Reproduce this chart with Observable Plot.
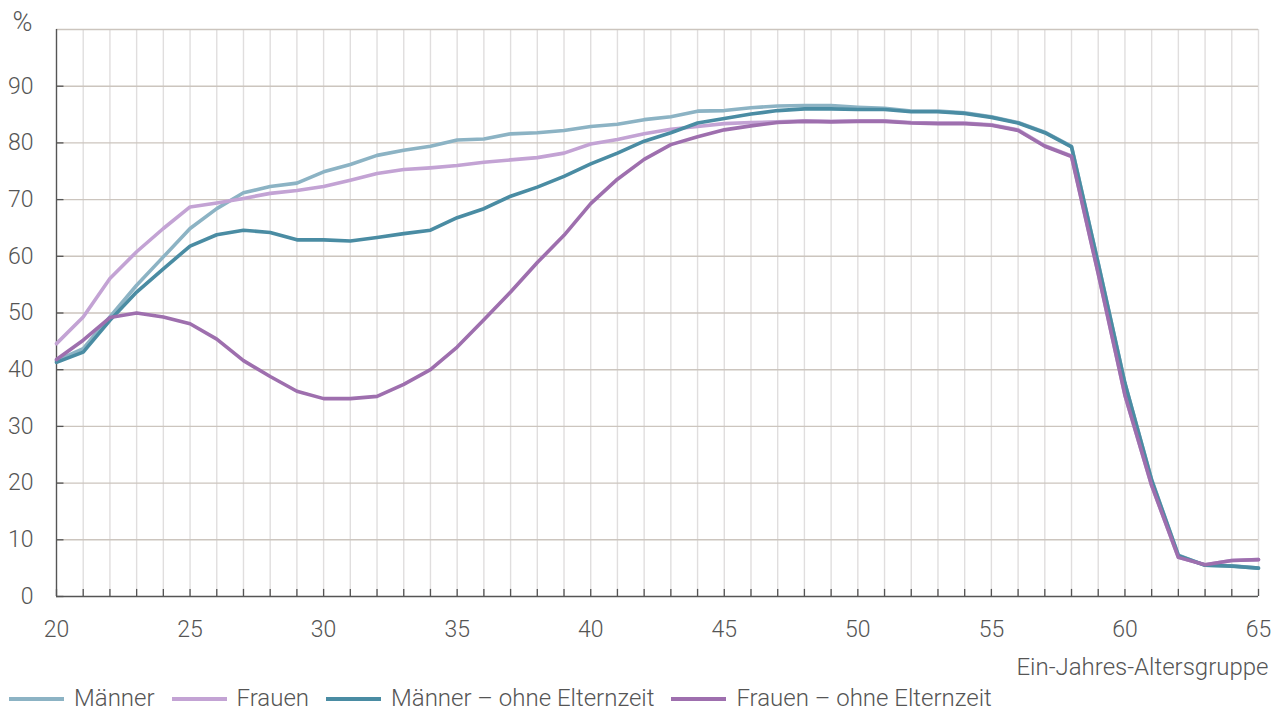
<!DOCTYPE html>
<html><head><meta charset="utf-8">
<script src="https://cdn.jsdelivr.net/npm/d3@7"></script>
<script src="https://cdn.jsdelivr.net/npm/@observablehq/plot@0.6"></script>
<style>
body{margin:0;background:#fff;font-family:Roboto,sans-serif;font-weight:300;color:#555}
#legend{display:flex;align-items:center;height:25px;padding-left:9px;font-size:24px;line-height:25px}
.item{display:flex;align-items:center;margin-right:17px;white-space:nowrap}
.sw{width:55px;height:4px;margin-right:10px}
</style></head><body><div id="chart"></div><div id="legend"></div>
<script>
const ages = [20,21,22,23,24,25,26,27,28,29,30,31,32,33,34,35,36,37,38,39,40,41,42,43,44,45,46,47,48,49,50,51,52,53,54,55,56,57,58,59,60,61,62,63,64,65];
const maenner = [41.6,43.7,49.3,54.9,59.9,64.9,68.4,71.2,72.3,72.9,74.9,76.2,77.8,78.7,79.4,80.5,80.7,81.6,81.8,82.2,82.9,83.3,84.1,84.6,85.6,85.7,86.2,86.5,86.6,86.6,86.3,86.1,85.6,85.6,85.3,84.6,83.6,81.9,79.4,58.8,37.6,20.6,7.3,5.5,5.4,5.0];
const frauen = [44.6,49.3,56.1,60.8,64.9,68.7,69.4,70.2,71.1,71.6,72.3,73.4,74.6,75.3,75.6,76.0,76.6,77.0,77.4,78.2,79.8,80.6,81.6,82.4,82.9,83.4,83.6,83.7,83.9,83.8,83.9,83.9,83.6,83.5,83.5,83.2,82.3,79.5,77.7,57.0,35.5,19.6,6.9,5.6,6.35,6.5];
const maennerOhne = [41.3,43.1,48.7,53.7,57.8,61.8,63.8,64.6,64.2,62.9,62.9,62.7,63.3,64.0,64.6,66.8,68.4,70.6,72.2,74.1,76.3,78.2,80.3,81.8,83.5,84.3,85.1,85.7,86.0,86.0,85.9,85.9,85.5,85.5,85.2,84.5,83.5,81.8,79.3,58.7,37.6,20.5,7.2,5.5,5.35,5.0];
const frauenOhne = [41.8,45.2,49.2,50.0,49.3,48.1,45.4,41.6,38.8,36.2,34.9,34.9,35.3,37.4,40.0,44.0,48.8,53.7,58.9,63.7,69.3,73.6,77.1,79.7,81.1,82.3,83.0,83.6,83.8,83.7,83.8,83.8,83.5,83.4,83.4,83.1,82.2,79.4,77.6,56.9,35.5,19.6,6.9,5.6,6.35,6.5];
const seriesNames = ["Männer","Frauen","Männer – ohne Elternzeit","Frauen – ohne Elternzeit"];
const seriesColors = ["#8cb3c4","#c3a3d4","#4a8ca3","#9e6fae"];
const yTicks = [0,10,20,30,40,50,60,70,80,90];
const yGrid = [10,20,30,40,50,60,70,80,90,100];
const xLabels = [20,25,30,35,40,45,50,55,60,65];
const yUnit = "%";
const xTitle = "Ein-Jahres-Altersgruppe";

const seriesValues = [maenner, frauen, maennerOhne, frauenOhne];
const data = [];
seriesNames.forEach((name, s) => ages.forEach((a, i) => data.push({age: a, value: seriesValues[s][i], series: name})));

const chart = Plot.plot({
  width: 1281, height: 686,
  marginLeft: 56, marginRight: 23, marginTop: 29, marginBottom: 90,
  x: {domain: [20, 65], axis: null},
  y: {domain: [0, 100], axis: null},
  color: {domain: seriesNames, range: seriesColors},
  style: {fontFamily: "Roboto, sans-serif", fontSize: "23px", fontWeight: 300, color: "#555", background: "#fff"},
  marks: [
    Plot.ruleX(ages.slice(1), {y1: 0, y2: 100, stroke: "#e0dede", strokeWidth: 1.4}),
    Plot.ruleY(yGrid, {stroke: "#ccc5be", strokeWidth: 1.4}),
    Plot.ruleX(ages, {y1: 0, y2: 1.25, stroke: "#555", strokeWidth: 1.3}),
    Plot.ruleY(yTicks, {x1: 20, x2: 20.28, stroke: "#555", strokeWidth: 1.3}),
    Plot.ruleY([0], {stroke: "#555", strokeWidth: 1.4}),
    Plot.ruleX([20], {y1: 0, y2: 100, stroke: "#555", strokeWidth: 1.4}),
    Plot.line(data, {x: "age", y: "value", z: "series", stroke: "series", strokeWidth: 3.6}),
    Plot.text(yTicks, {x: 20, y: d => d, text: d => String(d), dx: -23, textAnchor: "end", fill: "#555"}),
    Plot.text(xLabels, {x: d => d, y: 0, dy: 33, text: d => String(d), fill: "#555"}),
    Plot.text([yUnit], {frameAnchor: "top-left", dx: -34, dy: -7, textAnchor: "middle", lineAnchor: "middle", fill: "#555", fontSize: 27}),
    Plot.text([xTitle], {frameAnchor: "bottom-right", dx: 10, dy: 71, textAnchor: "end", lineAnchor: "middle", fill: "#555", fontSize: 24})
  ]
});
document.getElementById("chart").appendChild(chart);

const legend = document.getElementById("legend");
seriesNames.forEach((name, i) => {
  const item = document.createElement("div");
  item.className = "item";
  const sw = document.createElement("span");
  sw.className = "sw";
  sw.style.background = seriesColors[i];
  const t = document.createElement("span");
  t.textContent = name;
  item.appendChild(sw); item.appendChild(t);
  legend.appendChild(item);
});
</script></body></html>
